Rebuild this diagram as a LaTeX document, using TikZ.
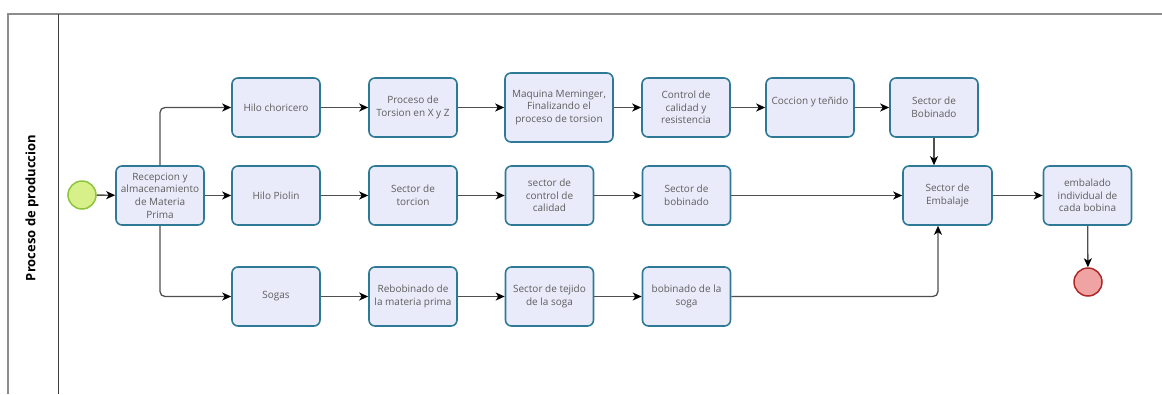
\documentclass[tikz,border=0pt]{standalone}
\usepackage{fontspec}
\setmainfont{Open Sans}
\usetikzlibrary{arrows.meta}
\definecolor{boxfill}{HTML}{E9EBFA}
\definecolor{boxline}{HTML}{2E7A96}
\definecolor{txt}{HTML}{5E5E5E}
\definecolor{flow}{HTML}{505050}
\definecolor{startfill}{HTML}{D8F08A}
\definecolor{startline}{HTML}{8CC43C}
\definecolor{endfill}{HTML}{EFA3A3}
\definecolor{endline}{HTML}{B02828}
\tikzset{
  task/.style={draw=boxline, fill=boxfill, line width=1.6pt, rounded corners=6pt,
    minimum width=88pt, minimum height=59pt, inner sep=1pt, align=center,
    text=txt, font=\fontsize{10}{12.7}\selectfont},
  startev/.style={circle, draw=startline, fill=startfill, line width=1.5pt, minimum size=28pt, inner sep=0pt},
  endev/.style={circle, draw=endline, fill=endfill, line width=1.5pt, minimum size=28pt, inner sep=0pt},
  flowline/.style={draw=flow, line width=1.3pt, rounded corners=5pt,
    -{Stealth[length=9pt,width=8pt,inset=2.5pt,fill=black,color=black]}},
  poolline/.style={draw=black!45, line width=1.4pt},
  laneline/.style={draw=black!75, line width=1pt}
}
\begin{document}
\begin{tikzpicture}[x=1pt,y=-1pt]
\useasboundingbox (0,0) rectangle (1162,394);
% pool and lane header
\draw[poolline] (1162,14) -- (8,14) -- (8,394);
\draw[laneline] (58,14) -- (58,394);
\node[rotate=90, font=\fontsize{13}{15}\selectfont\bfseries, text=black] (lane) at (32,208) {Proceso de produccion};

% events
\node[startev] (start) at (82,195) {};
\node[endev] (finish) at (1088,282) {};

% tasks
\node[task] (rec) at (160,195.5) {Recepcion y\\almacenamiento\\de Materia\\Prima};
\node[task] (hc)  at (276,107.5) {Hilo choricero};
\node[task] (pt)  at (413,107.5) {Proceso de\\Torsion en X y Z};
\node[task, minimum width=108pt, minimum height=69pt] (mm) at (559,107.5) {Maquina Meminger,\\Finalizando el\\proceso de torsion};
\node[task] (cc)  at (686,107.5) {Control de\\calidad y\\resistencia};
\node[task] (ct)  at (810,107.5) {Coccion y teñido\\\mbox{}};
\node[task] (sb)  at (934,107.5) {Sector de\\Bobinado};

\node[task] (hp)  at (276,195.5) {Hilo Piolin};
\node[task] (st)  at (413,195.5) {Sector de\\torcion};
\node[task] (scc) at (549.5,195.5) {sector de\\control de\\calidad};
\node[task] (sbo) at (686.5,195.5) {Sector de\\bobinado};
\node[task, minimum width=89pt] (se) at (947.5,195.5) {Sector de\\Embalaje};
\node[task] (ei)  at (1087.5,195.5) {embalado\\individual de\\cada bobina};

\node[task] (sg)  at (276,296.5) {Sogas};
\node[task] (rb)  at (413,296.5) {Rebobinado de\\la materia prima};
\node[task] (tj)  at (549.5,296.5) {Sector de tejido\\de la soga};
\node[task] (bs)  at (686.5,296.5) {bobinado de la\\soga};

% sequence flows
\draw[flowline] (start) -- (rec);
\draw[flowline] (rec.north) |- (hc.west);
\draw[flowline] (rec) -- (hp);
\draw[flowline] (rec.south) |- (sg.west);

\draw[flowline] (hc) -- (pt);
\draw[flowline] (pt) -- (mm);
\draw[flowline] (mm) -- (cc);
\draw[flowline] (cc) -- (ct);
\draw[flowline] (ct) -- (sb);
\draw[flowline] (sb.south) -- (sb.south |- se.north);

\draw[flowline] (hp) -- (st);
\draw[flowline] (st) -- (scc);
\draw[flowline] (scc) -- (sbo);
\draw[flowline] (sbo) -- (se);

\draw[flowline] (sg) -- (rb);
\draw[flowline] (rb) -- (tj);
\draw[flowline] (tj) -- (bs);
\coordinate (inlet) at (938,0);
\draw[flowline] (bs.east) -| (inlet |- se.south);

\draw[flowline] (se) -- (ei);
\draw[flowline] (ei) -- (finish);
\end{tikzpicture}
\end{document}
